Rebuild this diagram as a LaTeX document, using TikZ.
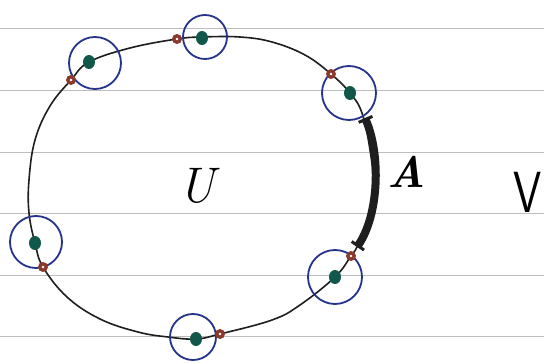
\documentclass[tikz,border=0pt]{standalone}
\usepackage{tikz}
\usetikzlibrary{arrows.meta,calc}
\definecolor{ruling}{HTML}{BDBDBD}
\definecolor{ink}{HTML}{1E1E1E}
\definecolor{ringblue}{HTML}{26338A}
\definecolor{dotgreen}{HTML}{12584A}
\definecolor{dotred}{HTML}{8A3A2C}

\begin{document}
\begin{tikzpicture}[x=1pt,y=-1pt]
 \useasboundingbox(0,0)rectangle(544,363);
 \fill[white](0,0)rectangle(544,363);
 % ruled paper
 \foreach \y in {28,90,152,213,275,336}{\draw[ruling,line width=.8pt](0,\y)--(544,\y);}
 % the set U
 \draw[ink,line width=1.6pt]plot[smooth cycle,tension=.65]coordinates{(177,39)(202,37)(240,37)(272,42)(305,55)(331,74)(350,93)(362,113)(370,150)(373,185)(367,225)(357,247)(351,256)(335,277)(300,305)(272,320)(220,334)(196,339)(168,337)(138,332)(100,319)(67,297)(43,267)(35,243)(29,213)(29,180)(35,140)(50,106)(71,80)(89,62)(130,48)};
 % the arc A
 \coordinate(atop)at(365,118);\coordinate(abot)at(357,247);
 \draw[ink,line width=8pt,{Bar[width=15pt,line width=3pt]}-{Bar[width=15pt,line width=3pt]}](atop)..controls(381,155)and(379,215)..(abot);
 % neighbourhoods
 \foreach \cx/\cy/\r in {95/63/26,205/37/22,349/93/27,36/242/26,193/337/23,335/277/27}{
  \draw[ringblue,line width=1.8pt](\cx,\cy)circle(\r);}
 \foreach \gx/\gy in {89/62,202/38,350/93,35/243,196/339,335/277}{
  \fill[dotgreen](\gx,\gy)ellipse(6 and 7);}
 \foreach \rx/\ry in {71/80,177/39,331/74,43/267,220/334,351/256}{
  \fill[dotred](\rx,\ry)circle(5);\fill[white](\rx,\ry)circle(1.4);}
 \node[inner sep=0,font=\fontsize{50}{50}\selectfont\itshape](u)at(197,186){U};
 \node[inner sep=0,font=\fontsize{44}{44}\selectfont\bfseries\itshape](a)at(407,172){A};
 \node[inner sep=0,xscale=.78,font=\fontsize{58}{58}\selectfont\sffamily](v)at(528,192){V};
\end{tikzpicture}
\end{document}
